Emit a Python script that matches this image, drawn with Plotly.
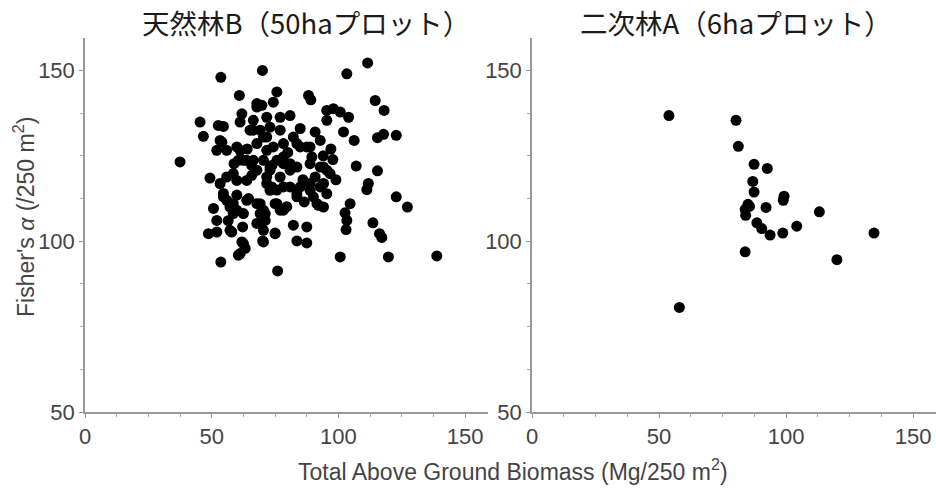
import plotly.graph_objects as go

# ---- data: 天然林B (50ha plot) ----
natural_x = [53.6, 70.0, 60.9, 45.4, 52.6, 54.6, 46.7, 61.9, 61.2, 37.5,
             49.3, 52.0, 50.7, 52.0, 48.7, 52.0, 57.9, 62.2, 53.6, 62.5,
             61.2, 70.1, 76.0, 75.0, 69.1, 54.6, 57.2, 62.5, 64.5, 53.3,
             55.9, 58.8, 60.5, 63.8, 65.8, 65.8, 63.8, 59.9, 58.5, 53.3,
             55.9, 61.2, 66.4, 67.8, 69.8, 74.3, 75.7, 71.7, 71.7, 73.7,
             71.7, 73.7, 69.1, 71.1, 75.0, 58.5, 111.5, 103.3, 88.2, 89.1,
             114.5, 118.0, 95.4, 98.0, 100.7, 104.0, 95.4, 102.0, 106.2, 115.4,
             117.8, 122.8, 97.8, 115.4, 111.8, 111.2, 122.8, 127.2, 104.6, 102.6,
             103.3, 103.0, 113.6, 116.2, 117.1, 100.7, 119.7, 138.8, 82.2, 87.5,
             83.6, 87.5, 95.4, 94.1, 95.4, 92.1, 90.1, 88.8, 90.8, 92.8,
             90.8, 92.8, 88.8, 89.5, 84.9, 82.2, 84.9, 80.9, 77.0, 73.0,
             70.4, 74.3, 78.3, 80.9, 77.0, 73.0, 71.7, 75.7, 80.9, 83.6,
             84.9, 79.6, 77.0, 70.4, 71.1, 70.4, 67.8, 66.4, 71.7, 69.1,
             77.0, 67.8, 78.3, 83.6, 87.5, 66.4, 70.4, 75.7, 80.9, 54.0,
             59.9, 65.1, 62.5, 54.6, 55.9, 57.2, 59.9, 63.8, 59.9, 58.5,
             57.2, 61.9, 63.2, 60.5, 67.8, 67.8, 67.8, 73.0, 78.3, 83.6,
             88.8, 94.1, 96.7, 73.0, 78.3, 83.6, 88.8, 92.8, 91.5, 94.1,
             69.1, 75.7, 78.3, 75.0, 70.4, 97.0, 94.0, 86.0, 80.0, 64.0,
             56.5, 99.0, 107.0, 86.5]
natural_y = [148.0, 150.0, 142.7, 134.9, 133.9, 133.6, 130.7, 137.3, 134.9, 123.2,
             118.5, 126.6, 109.6, 106.1, 102.2, 102.7, 102.7, 104.2, 93.9, 99.3,
             96.4, 100.1, 91.3, 102.4, 105.3, 113.0, 111.0, 108.1, 112.5, 116.9,
             118.8, 122.7, 123.7, 123.7, 122.2, 119.3, 117.8, 117.8, 119.8, 129.5,
             126.6, 126.6, 132.5, 139.3, 139.8, 140.7, 143.7, 130.5, 126.6, 122.2,
             118.8, 115.9, 111.0, 108.1, 111.0, 108.1, 152.2, 149.0, 142.7, 141.4,
             141.2, 138.3, 138.3, 138.8, 137.8, 136.3, 135.4, 132.0, 129.5, 130.3,
             131.3, 131.0, 123.9, 120.6, 116.9, 115.1, 113.0, 110.0, 111.0, 108.3,
             106.1, 103.4, 105.4, 102.2, 101.1, 95.4, 95.4, 95.7, 104.7, 104.2,
             100.1, 99.5, 120.8, 116.9, 113.9, 110.5, 113.0, 116.9, 118.8, 121.7,
             132.0, 129.5, 127.6, 124.7, 133.0, 130.5, 127.6, 136.8, 136.3, 133.4,
             130.5, 127.6, 124.7, 120.8, 118.8, 120.8, 116.9, 115.0, 115.9, 113.0,
             115.9, 110.1, 109.1, 109.1, 106.1, 103.2, 140.3, 135.4, 136.3, 132.5,
             132.5, 128.6, 128.6, 128.6, 127.6, 123.7, 123.7, 123.7, 122.7, 129.0,
             127.6, 132.5, 123.7, 114.0, 112.0, 110.0, 109.1, 112.0, 113.5, 111.0,
             103.2, 99.8, 97.9, 95.9, 111.0, 105.2, 120.8, 121.7, 122.7, 121.7,
             122.7, 121.7, 119.8, 114.9, 115.9, 114.0, 114.9, 115.9, 111.0, 110.0,
             108.1, 111.0, 109.1, 102.2, 99.8, 127.0, 125.0, 118.0, 126.0, 127.0,
             106.0, 118.0, 122.0, 111.5]

# ---- data: 二次林A (6ha plot) ----
secondary_x = [53.9, 80.3, 81.2, 87.4, 92.6, 86.9, 87.4, 99.2, 98.9, 85.6,
               83.9, 92.1, 113.1, 84.1, 88.5, 104.2, 90.4, 93.7, 98.7, 134.6,
               83.9, 120.0, 58.0, 85.0]
secondary_y = [136.8, 135.4, 127.8, 122.5, 121.3, 117.5, 114.4, 113.2, 112.0, 110.2,
               109.3, 109.9, 108.6, 107.6, 105.4, 104.4, 103.7, 101.8, 102.4, 102.4,
               96.9, 94.6, 80.6, 110.8]

titles = ["天然林B（50haプロット）", "二次林A（6haプロット）"]
x_title = "Total Above Ground Biomass (Mg/250 m<sup>2</sup>)"
y_title = "Fisher's <i>α</i> (/250 m<sup>2</sup>)"
tick_vals = [0, 50, 100, 150]
y_tick_vals = [50, 100, 150]

W, H = 936, 491
fig = go.Figure()
marker = dict(color="black", size=11, line=dict(width=0))
fig.add_trace(go.Scatter(x=natural_x, y=natural_y, mode="markers", marker=marker,
                         xaxis="x", yaxis="y", showlegend=False, cliponaxis=False))
fig.add_trace(go.Scatter(x=secondary_x, y=secondary_y, mode="markers", marker=marker,
                         xaxis="x2", yaxis="y2", showlegend=False, cliponaxis=False))

tickfont = dict(family="Liberation Sans, Arial, sans-serif", size=22, color="#444")
axcommon = dict(showgrid=False, zeroline=False, showline=True, linecolor="#999",
                linewidth=1.5, ticks="outside", ticklen=4, tickcolor="#999",
                tickwidth=1.2, tickfont=tickfont, automargin=False,
                minor=dict(ticks="outside", ticklen=3, tickcolor="#aaa", dtick=12.5))

ydom = [(H - 412) / H, (H - 38) / H]
fig.update_layout(
    width=W, height=H, margin=dict(l=0, r=0, t=0, b=0, autoexpand=False),
    paper_bgcolor="white", plot_bgcolor="white",
    xaxis=dict(domain=[85 / W, 488 / W], range=[0, 159], tickvals=tick_vals,
               anchor="y", **axcommon),
    yaxis=dict(domain=ydom, range=[50, 159.5], tickvals=y_tick_vals,
               anchor="x", **axcommon),
    xaxis2=dict(domain=[532 / W, 1.0], range=[0, 159], tickvals=tick_vals,
                anchor="y2", **axcommon),
    yaxis2=dict(domain=ydom, range=[50, 159.5], tickvals=y_tick_vals,
                anchor="x2", **axcommon),
)

title_font = dict(family="Noto Sans CJK JP", size=27.5, color="#1a1a1a")
fig.add_annotation(text=titles[0], x=306 / W, y=(H - 22) / H, xref="paper", yref="paper",
                   showarrow=False, font=title_font, xanchor="center", yanchor="middle")
fig.add_annotation(text=titles[1], x=736 / W, y=(H - 22) / H, xref="paper", yref="paper",
                   showarrow=False, font=title_font, xanchor="center", yanchor="middle")
lab_font = dict(family="Liberation Sans, Arial, sans-serif", size=23, color="#444")
fig.add_annotation(text=x_title, x=513 / W, y=(H - 470) / H, xref="paper", yref="paper",
                   showarrow=False, font=lab_font, xanchor="center", yanchor="middle")
fig.add_annotation(text=y_title, x=24 / W, y=(H - 217) / H, xref="paper", yref="paper",
                   showarrow=False, font=lab_font, textangle=-90,
                   xanchor="center", yanchor="middle")

fig.write_html("out.html", config={"displayModeBar": False},
               post_script="document.body.style.margin='0';document.body.style.overflow='hidden';")
